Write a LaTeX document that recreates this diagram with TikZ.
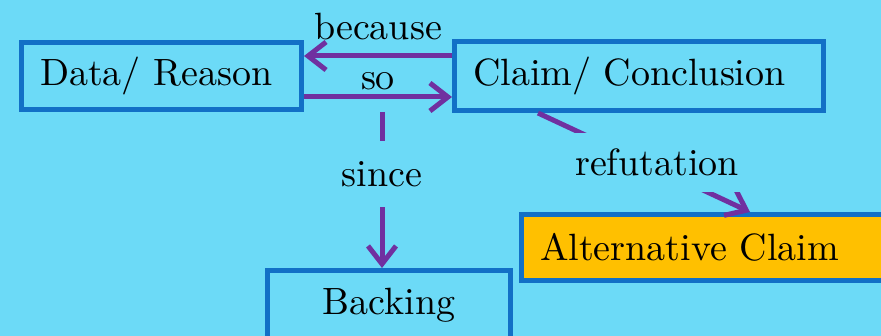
\documentclass[tikz,border=0pt]{standalone}
\usepackage{fontspec}
\setmainfont{lmroman10}[Extension=.otf, UprightFont=*-regular, BoldFont=*-bold, ItalicFont=*-italic]
\usetikzlibrary{arrows.meta}
\definecolor{bgc}{HTML}{6CDAF7}
\definecolor{boxc}{HTML}{1270C6}
\definecolor{arrc}{HTML}{7030A0}
\definecolor{altc}{HTML}{FFC000}
\begin{document}
\begin{tikzpicture}[x=1pt,y=-1pt,
  txt/.style={font=\fontsize{38}{44}\selectfont},
  box/.style={txt, draw=boxc, line width=5pt, inner sep=0pt},
  lbox/.style={box, inner xsep=18.5pt, align=left},
  arr/.style={draw=arrc, line width=5pt, -{Straight Barb[length=18pt,width=28pt]}},
  lbl/.style={txt, fill=bgc, inner sep=0pt}]
\fill[bgc] (0,0) rectangle (881,336);
\clip (0,0) rectangle (881,336);
\useasboundingbox (0,0) rectangle (881,336);

\node[lbox, text width=243pt, minimum height=67pt] (data) at (161.5,76) {Data/ Reason};
\node[lbox, text width=332pt, minimum height=69pt] (claim) at (639,76) {Claim/ Conclusion};
\node[box, minimum width=243pt, minimum height=70pt] (backing) at (389,305.5) {Backing};
\node[lbox, fill=altc, anchor=north west, text width=380pt,
      minimum height=66pt] (alt) at (519,212) {Alternative Claim};

\draw[arr] ([yshift=20pt]claim.west) -- node[txt, midway, anchor=base, yshift=16pt]{because} ([yshift=20pt]data.east);
\draw[arr] ([yshift=-21pt]data.east) -- node[txt, midway, anchor=base, yshift=7pt]{so} ([yshift=-21pt]claim.west);

\coordinate (sincefrom) at (382,112);
\draw[arr] (sincefrom) -- node[lbl, pos=0.397, minimum height=66pt, inner xsep=4pt]{since} ([xshift=-7pt]backing.north);

\draw[arr] ([xshift=-101pt]claim.south) -- node[lbl, pos=0.5, xshift=13pt, minimum height=59pt, inner xsep=4pt]{refutation} ([xshift=20pt]alt.north);
\end{tikzpicture}
\end{document}
